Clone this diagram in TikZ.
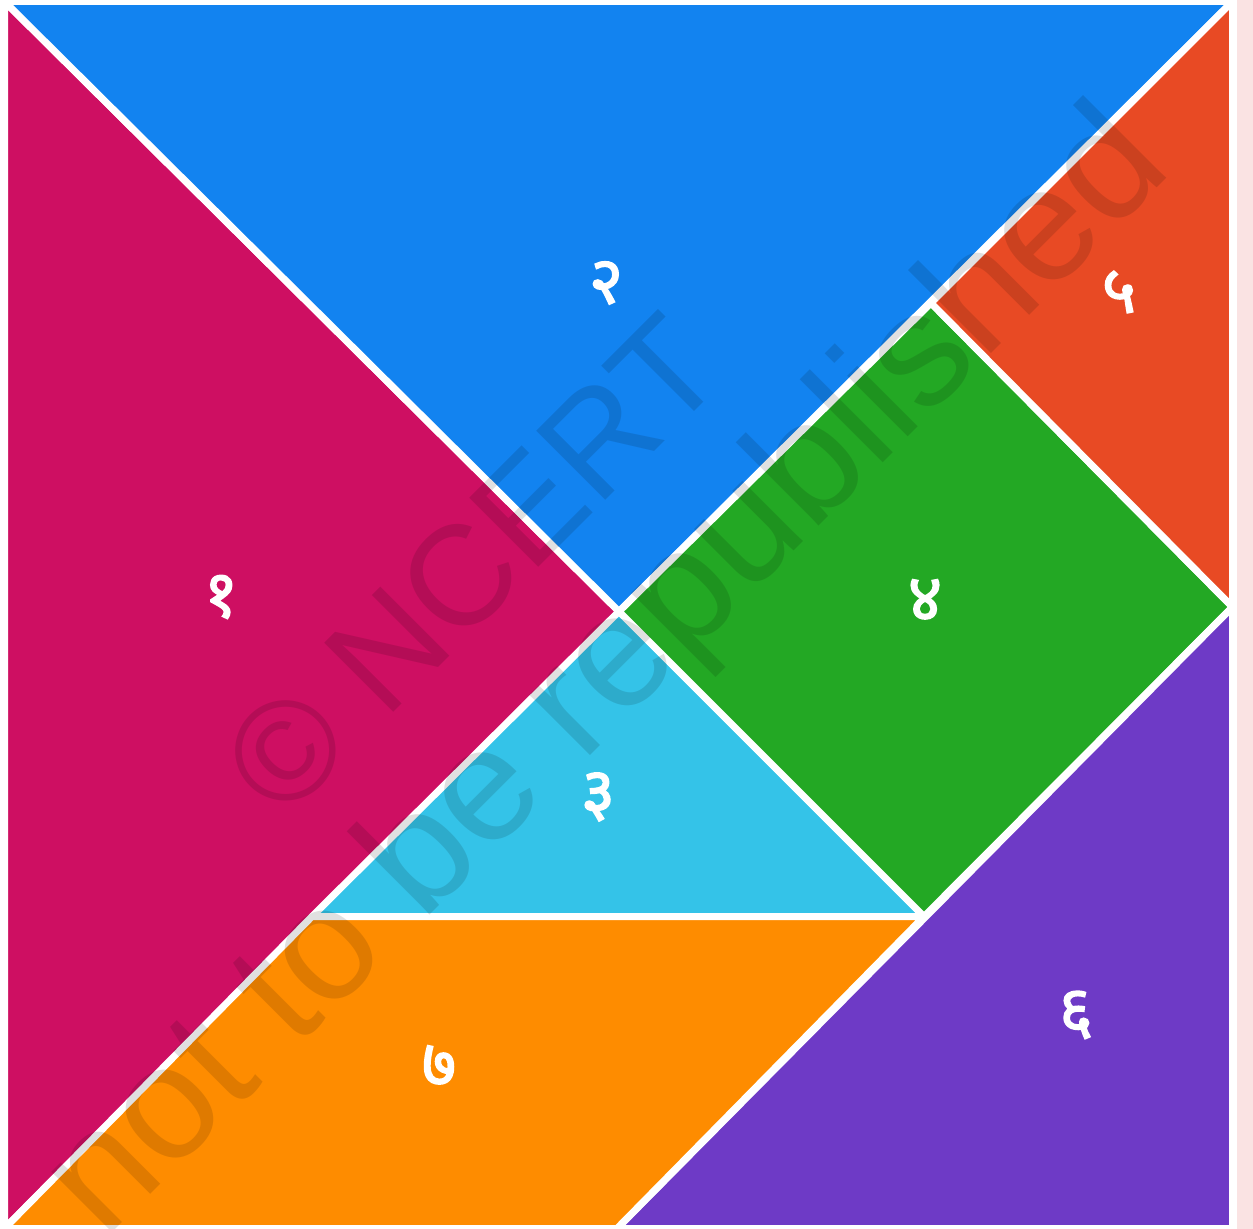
\documentclass[tikz,border=0pt]{standalone}
\usepackage{fontspec}
\setmainfont{Liberation Sans}
\newfontfamily\devfont[Script=Devanagari,FakeBold=2.2]{Noto Sans}
\definecolor{cPink}{HTML}{CE0F62}
\definecolor{cBlue}{HTML}{1283F0}
\definecolor{cCyan}{HTML}{34C3E8}
\definecolor{cGreen}{HTML}{23A824}
\definecolor{cRed}{HTML}{E84A24}
\definecolor{cPurple}{HTML}{6E3AC6}
\definecolor{cOrange}{HTML}{FE8C00}
\definecolor{cStrip}{HTML}{FAE3E3}
\tikzset{
  piece/.style={fill=#1, draw=white, line width=3.5pt, line join=round},
  lbl/.style={text=white, font=\devfont\fontsize{33}{33}\selectfont, inner sep=0pt},
  wm/.style={text=black, opacity=0.12, rotate=45, inner sep=0pt}
}
\begin{document}
\begin{tikzpicture}[x=0.5pt, y=-0.5pt]
\useasboundingbox (0,0) rectangle (1253,1229);
\fill[white] (0,0) rectangle (1253,1229);
\fill[cStrip] (1237,0) rectangle (1253,1229);
% grid coordinates
\coordinate (A00) at (4.5,1.5);   \coordinate (A40) at (1232.5,1.5);
\coordinate (A04) at (4.5,1228.5); \coordinate (A44) at (1232.5,1228.5);
\coordinate (C) at (619,611.5);
\coordinate (A13) at (312,916.5);  \coordinate (A33) at (924,916.5);
\coordinate (A31) at (931,303);  \coordinate (A42) at (1232.5,607);
\coordinate (A24) at (617,1228.5);
% pieces
\draw[piece=cPink] (A00) -- (A04) -- (C) -- cycle;
\draw[piece=cBlue] (A00) -- (A40) -- (C) -- cycle;
\draw[piece=cCyan] (C) -- (A13) -- (A33) -- cycle;
\draw[piece=cGreen] (C) -- (A31) -- (A42) -- (A33) -- cycle;
\draw[piece=cRed] (A40) -- (A42) -- (A31) -- cycle;
\draw[piece=cPurple] (A42) -- (A44) -- (A24) -- cycle;
\draw[piece=cOrange] (A13) -- (A33) -- (A24) -- (A04) -- cycle;
% labels
\node[lbl] (n1) at (221,597) {१};
\node[lbl] (n2) at (606,283) {२};
\node[lbl] (n3) at (598,797) {३};
\node[lbl] (n4) at (925,600) {४};
\node[lbl] (n5) at (1119,292) {५};
\node[lbl] (n6) at (1076,1015) {६};
\node[lbl] (n7) at (439,1066) {७};
% watermark
\node[wm, font=\fontsize{71}{71}\selectfont] (w1) at (472,565) {© NCERT};
\node[wm, font=\fontsize{81}{81}\selectfont] (w2) at (610,676) {not to be republished};
\end{tikzpicture}
\end{document}
